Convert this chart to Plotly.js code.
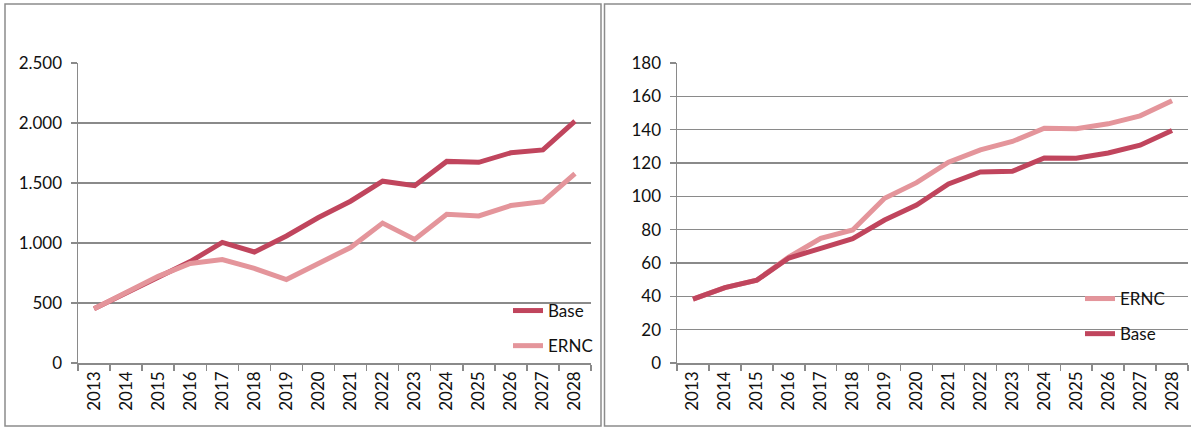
<!DOCTYPE html>
<html>
<head>
<meta charset="utf-8">
<script src="https://cdn.plot.ly/plotly-3.0.1.min.js"></script>
<style>html,body{margin:0;padding:0;background:#fff;}#chart{width:1191px;height:428px;}</style>
</head>
<body>
<div id="chart"></div>
<script>
var years = ["2013","2014","2015","2016","2017","2018","2019","2020","2021","2022","2023","2024","2025","2026","2027","2028"];
var leftBase = [452, 585, 722, 845, 1005, 925, 1058, 1212, 1348, 1515, 1478, 1680, 1672, 1752, 1776, 2015];
var leftERNC = [452, 585, 722, 830, 862, 788, 695, 830, 962, 1166, 1030, 1240, 1225, 1312, 1344, 1578];
var rightBase = [38.3, 45.2, 49.7, 63.0, 68.8, 74.6, 85.8, 94.8, 107.4, 114.6, 115.0, 123.0, 122.8, 126.0, 130.7, 139.5];
var rightERNC = [38.3, 45.2, 49.7, 63.5, 74.8, 79.8, 98.8, 108.2, 120.5, 127.9, 132.9, 140.9, 140.5, 143.5, 148.3, 157.3];
var seriesNames = ["Base", "ERNC"];

var cBase = "#C0455D", cERNC = "#E4959B", grid = "#8A8A8A";
var W = 1191, H = 428;
function px(x){ return x / W; }
function py(y){ return 1 - y / H; }
var font = {family: "Lato, 'Open Sans', sans-serif", size: 17, color: "#111"};

var traces = [
  {x: years, y: leftBase, name: seriesNames[0], type: "scatter", mode: "lines", xaxis: "x", yaxis: "y",
   line: {color: cBase, width: 5}, legend: "legend", legendgroup: "a"},
  {x: years, y: leftERNC, name: seriesNames[1], type: "scatter", mode: "lines", xaxis: "x", yaxis: "y",
   line: {color: cERNC, width: 5}, legend: "legend", legendgroup: "b"},
  {x: years, y: rightERNC, name: seriesNames[1], type: "scatter", mode: "lines", xaxis: "x2", yaxis: "y2",
   line: {color: cERNC, width: 5}, legend: "legend2", legendgroup: "c"},
  {x: years, y: rightBase, name: seriesNames[0], type: "scatter", mode: "lines", xaxis: "x2", yaxis: "y2",
   line: {color: cBase, width: 5}, legend: "legend2", legendgroup: "d"}
];

var xCommon = {type: "category", range: [-0.5, 15.5], showgrid: false, showline: true, linecolor: grid, linewidth: 1.5,
  ticks: "outside", tickson: "boundaries", ticklen: 6, tickcolor: grid, tickwidth: 1.5, tickangle: -90,
  tickfont: font, fixedrange: true, zeroline: false};
var yCommon = {showgrid: true, gridcolor: grid, gridwidth: 1.5, showline: true, linecolor: grid, linewidth: 1.5,
  ticks: "outside", ticklen: 6, tickcolor: grid, tickwidth: 1.5, tickfont: font, zeroline: false, fixedrange: true,
  ticklabelstandoff: 5};

var layout = {
  width: W, height: H, margin: {l: 0, r: 0, t: 0, b: 0},
  paper_bgcolor: "#fff", plot_bgcolor: "#fff",
  separators: ",.",
  font: font,
  showlegend: true,
  xaxis: Object.assign({}, xCommon, {domain: [px(78), px(591)], anchor: "y"}),
  yaxis: Object.assign({}, yCommon, {domain: [py(363), py(63)], range: [0, 2500], dtick: 500, tickformat: ",d", anchor: "x"}),
  xaxis2: Object.assign({}, xCommon, {domain: [px(677), px(1188)], anchor: "y2"}),
  yaxis2: Object.assign({}, yCommon, {domain: [py(363), py(63)], range: [0, 180], dtick: 20, anchor: "x2"}),
  legend: {x: px(508), y: py(293), xanchor: "left", yanchor: "top", bgcolor: "rgba(0,0,0,0)",
    traceorder: "grouped", tracegroupgap: 10, font: font},
  legend2: {x: px(1080), y: py(281), xanchor: "left", yanchor: "top", bgcolor: "rgba(0,0,0,0)",
    traceorder: "grouped", tracegroupgap: 10, font: font},
  shapes: [
    {type: "rect", xref: "paper", yref: "paper", x0: px(5), x1: px(601), y0: py(426), y1: py(4),
     line: {color: "#8C8C8C", width: 1.5}, fillcolor: "rgba(0,0,0,0)", layer: "below"},
    {type: "rect", xref: "paper", yref: "paper", x0: px(604.5), x1: px(1200), y0: py(426), y1: py(4),
     line: {color: "#8C8C8C", width: 1.5}, fillcolor: "rgba(0,0,0,0)", layer: "below"}
  ]
};

Plotly.newPlot("chart", traces, layout, {displayModeBar: false, staticPlot: true});
</script>
</body>
</html>
